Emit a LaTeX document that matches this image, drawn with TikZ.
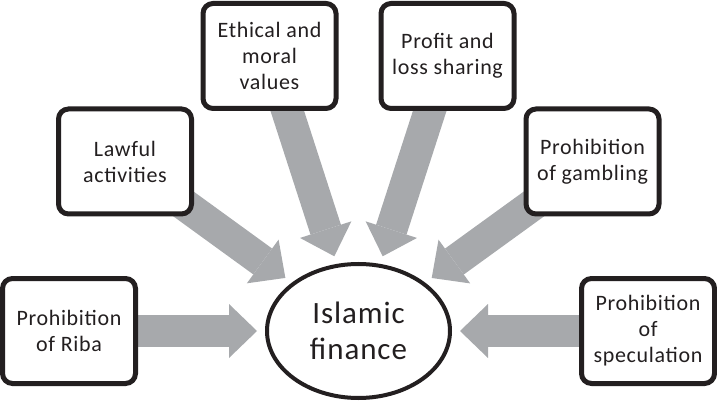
\documentclass[tikz,border=0pt]{standalone}
\usepackage{fontspec}
\setmainfont{Carlito}[LetterSpace=3]
\usetikzlibrary{arrows.meta,backgrounds,shapes.geometric}
\definecolor{feedgray}{RGB}{167,169,172}
\definecolor{inkblack}{RGB}{35,31,32}
\tikzset{
  idea/.style={draw=inkblack, line width=5pt, rounded corners=10pt, fill=white,
    minimum width=133pt, minimum height=105pt, inner sep=0pt, align=center,
    text=inkblack, font=\fontsize{22}{26}\selectfont},
  core/.style={ellipse, draw=inkblack, line width=4pt, fill=white,
    minimum width=183pt, minimum height=134pt, inner sep=0pt, align=center,
    text=inkblack, font=\fontsize{31}{36}\selectfont},
  feed/.style={draw=feedgray, line width=32pt,
    -{Triangle[length=28pt,width=54pt,line width=0pt]}, shorten >=8pt}
}
\begin{document}
\begin{tikzpicture}[x=1pt,y=-1pt]
      \useasboundingbox (0,0) rectangle (717,403);
      \node[core] (fin) at (358.5,331) {Islamic\\finance};
      \node[idea] (riba) at (69,331) {Prohibition\\of Riba};
      \node[idea] (law) at (125,161.5) {Lawful\\activities};
      \node[idea] (ethic) at (269.5,56) {Ethical and\\moral\\values};
      \node[idea] (profit) at (447.5,56) {Profit and\\loss sharing};
      \node[idea] (gamble) at (592.5,161.5) {Prohibition\\of gambling};
      \node[idea] (spec) at (648,331) {Prohibition\\of\\speculation};
      \begin{scope}[on background layer]
        \draw[feed] (riba.center) to (fin);
        \draw[feed] (law.center) to (fin);
        \draw[feed] (ethic.center) to (fin);
        \draw[feed] (profit.center) to (fin);
        \draw[feed] (gamble.center) to (fin);
        \draw[feed] (spec.center) to (fin);
      \end{scope}
    \end{tikzpicture}
\end{document}
